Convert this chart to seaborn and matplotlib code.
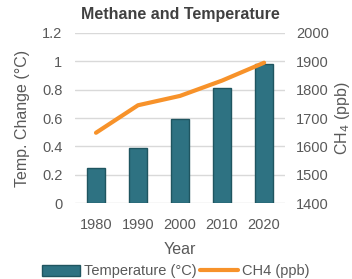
import numpy as np
import pandas as pd
import matplotlib
matplotlib.use("Agg")
import matplotlib.pyplot as plt
import seaborn as sns
from matplotlib.patches import Patch
from matplotlib.lines import Line2D

years = ["1980", "1990", "2000", "2010", "2020"]
temp_change = [0.25, 0.39, 0.59, 0.81, 0.98]
ch4_ppb = [1648, 1745, 1778, 1832, 1895]

sns.set_style("white")
plt.rcParams["font.family"] = ["Liberation Sans", "DejaVu Sans"]

bar_color = "#2E7282"
line_color = "#F7922A"
txt = "#595959"

df = pd.DataFrame({"year": years, "temp": temp_change, "ch4": ch4_ppb})

fig = plt.figure(figsize=(3.52, 2.79), dpi=100)
ax = fig.add_axes([0.213, 0.272, 0.597, 0.61])

sns.barplot(data=df, x="year", y="temp", color=bar_color, width=0.42,
            edgecolor="#1F5560", linewidth=1, saturation=1, ax=ax, zorder=3)
ax.set_ylim(0, 1.2)
ax.set_yticks([0, 0.2, 0.4, 0.6, 0.8, 1.0, 1.2])
ax.set_yticklabels(["0", "0.2", "0.4", "0.6", "0.8", "1", "1.2"])
ax.set_xlim(-0.5, 4.5)
ax.yaxis.grid(True, color="#D9D9D9", linewidth=1, zorder=0)
ax.set_axisbelow(True)
for s in ax.spines.values():
    s.set_visible(False)
ax.tick_params(axis="y", length=0, labelsize=10.5, colors=txt, pad=9)
ax.tick_params(axis="x", length=0, labelsize=10.5, colors=txt, pad=11)
ax.set_xlabel("Year", fontsize=11.5, color=txt, labelpad=7)
ax.set_ylabel("Temp. Change (°C)", fontsize=11.5, color=txt, labelpad=9)

ax2 = ax.twinx()
sns.lineplot(x=np.arange(len(years)), y=ch4_ppb, color=line_color,
             linewidth=3, ax=ax2, zorder=4)
ax2.set_ylim(1400, 2000)
ax2.set_yticks([1400, 1500, 1600, 1700, 1800, 1900, 2000])
for s in ax2.spines.values():
    s.set_visible(False)
ax2.tick_params(axis="y", length=0, labelsize=10.5, colors=txt, pad=8)
ax2.set_ylabel("CH$_4$ (ppb)", fontsize=11.5, color=txt, labelpad=3)
ax2.grid(False)

ax.set_title("Methane and Temperature", fontsize=11.5, fontweight="bold",
             color="#404040", pad=10)

handles = [Patch(facecolor=bar_color, edgecolor="#1F5560", label="Temperature (°C)"),
           Line2D([0], [0], color=line_color, linewidth=3, label="CH4 (ppb)")]
fig.legend(handles=handles, loc="lower center", bbox_to_anchor=(0.5, -0.045), ncol=2,
           frameon=False, fontsize=10.5, handlelength=2.6, handleheight=0.8,
           columnspacing=0.2, handletextpad=0.3, labelcolor=txt)

fig.savefig("out.png", dpi=100)
